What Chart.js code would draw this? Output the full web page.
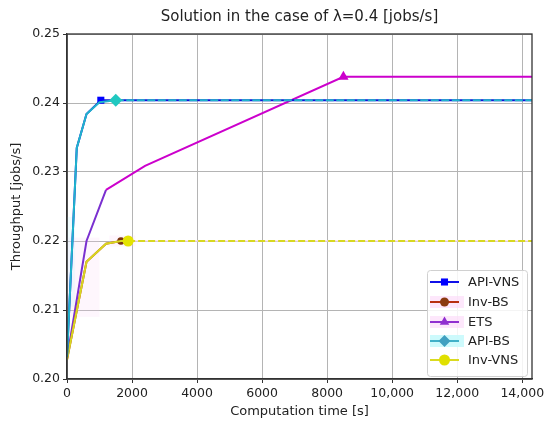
<!DOCTYPE html>
<html>
<head>
<meta charset="utf-8">
<script src="https://cdn.jsdelivr.net/npm/chart.js@4"></script>
<style>
  html, body { margin: 0; padding: 0; background: #fff; }
  #wrap { width: 550px; height: 426px; }
</style>
</head>
<body>
<div id="wrap"><canvas id="chart" width="550" height="426"></canvas></div>
<script>
// ---------- Data ----------
const apiVnsX = [0, 300, 600, 1040, 14300];
const apiVnsY = [0.2032, 0.2335, 0.2384, 0.2404, 0.2404];

const apiBsX = [0, 300, 600, 1000, 1500, 14300];
const apiBsY = [0.2032, 0.2335, 0.2384, 0.2401, 0.2404, 0.2404];

const etsX = [0, 600, 1200, 2400, 8500, 14300];
const etsY = [0.2030, 0.2200, 0.2274, 0.2309, 0.2438, 0.2438];

const invBsX = [0, 600, 1200, 1660, 14300];
const invBsY = [0.2028, 0.2170, 0.2196, 0.2200, 0.2200];

const invVnsX = [0, 600, 1200, 1660, 1880, 14300];
const invVnsY = [0.2028, 0.2170, 0.2196, 0.2200, 0.2200, 0.2200];

const xTicks = [0, 2000, 4000, 6000, 8000, 10000, 12000, 14000];
const yTicks = [0.20, 0.21, 0.22, 0.23, 0.24, 0.25];

const legendNames = ['API-VNS', 'Inv-BS', 'ETS', 'API-BS', 'Inv-VNS'];

// ---------- helpers ----------
function pts(xs, ys) {
    return xs.map((x, i) => ({ x: x, y: ys[i] }));
}

function series(label, xs, ys, opts) {
    const mark = opts.mark;
    return {
        label: label,
        data: pts(xs, ys),
        borderColor: opts.color,
        backgroundColor: opts.markColor,
        borderWidth: 2,
        pointStyle: opts.style,
        pointRadius: c => c.dataIndex === mark ? opts.r : 0,
        pointHoverRadius: c => c.dataIndex === mark ? opts.r : 0,
        pointBorderWidth: 0,
        pointBorderColor: opts.markColor,
        tension: 0,
        fill: false,
        order: opts.order,
        segment: {
            borderDash: c => (opts.dash && c.p0DataIndex >= mark) ? opts.dash : undefined,
            borderColor: c => (opts.segColor ? opts.segColor(c.p0DataIndex) : undefined)
        }
    };
}

// ---------- extra drawing: title, labels, spines, legend ----------
const decor = {
    id: 'decor',
    beforeDatasetsDraw(chart) {
        const ctx = chart.ctx;
        const xs = chart.scales.x, ys = chart.scales.y;
        // faint bands
        ctx.save();
        ctx.fillStyle = 'rgba(250, 205, 245, 0.18)';
        ctx.fillRect(xs.getPixelForValue(0), ys.getPixelForValue(0.2205), xs.getPixelForValue(1000) - xs.getPixelForValue(0), ys.getPixelForValue(0.209) - ys.getPixelForValue(0.2205));
        ctx.fillRect(xs.getPixelForValue(1300), ys.getPixelForValue(0.2208), xs.getPixelForValue(2100) - xs.getPixelForValue(1300), ys.getPixelForValue(0.2192) - ys.getPixelForValue(0.2208));
        ctx.fillStyle = 'rgba(200, 245, 250, 0.25)';
        ctx.fillRect(xs.getPixelForValue(0), ys.getPixelForValue(0.2235), xs.getPixelForValue(250) - xs.getPixelForValue(0), ys.getPixelForValue(0.2105) - ys.getPixelForValue(0.2235));
        ctx.restore();
    },
    afterDraw(chart) {
        const ctx = chart.ctx;
        const a = chart.chartArea;
        ctx.save();
        // spines
        ctx.strokeStyle = '#333';
        ctx.lineWidth = 1.3;
        ctx.strokeRect(a.left, a.top, a.right - a.left, a.bottom - a.top);

        ctx.fillStyle = '#222';
        ctx.textAlign = 'center';
        ctx.textBaseline = 'middle';
        ctx.font = '15px "DejaVu Sans"';
        ctx.fillText('Solution in the case of \u03bb=0.4 [jobs/s]', (a.left + a.right) / 2, 17);

        ctx.font = '13px "DejaVu Sans"';
        ctx.fillText('Computation time [s]', (a.left + a.right) / 2, 412);
        ctx.save();
        ctx.translate(17, (a.top + a.bottom) / 2);
        ctx.rotate(-Math.PI / 2);
        ctx.fillText('Throughput [jobs/s]', 0, 0);
        ctx.restore();

        // legend
        const bx = 427, by = 270, bw = 100, bh = 106;
        ctx.fillStyle = 'rgba(255,255,255,0.85)';
        ctx.strokeStyle = '#d0d0d0';
        ctx.lineWidth = 1;
        ctx.beginPath();
        ctx.roundRect(bx + 0.5, by + 0.5, bw, bh, 3);
        ctx.fill();
        ctx.stroke();

        const rows = [282, 302, 322, 341, 360];
        const lc = ['#1010e8', '#b83010', '#9030d0', '#40b0c8', '#dada20'];
        const mc = ['#0000ff', '#8b3a10', '#9030d0', '#40a0c0', '#e0e000'];
        const shade = [null, 'rgba(252,215,248,0.6)', 'rgba(252,215,248,0.6)', 'rgba(200,250,252,0.9)', null];
        const shapes = ['rect', 'circle', 'triangle', 'rectRot', 'circle'];
        const rad = [5, 4.5, 5.5, 6, 5.5];
        rows.forEach((y, i) => {
            if (shade[i]) {
                ctx.fillStyle = shade[i];
                ctx.fillRect(430, y - 6, 34, 12);
            }
            ctx.strokeStyle = lc[i];
            ctx.lineWidth = 2;
            ctx.beginPath();
            ctx.moveTo(430, y);
            ctx.lineTo(459, y);
            ctx.stroke();
            ctx.fillStyle = mc[i];
            Chart.helpers.drawPoint(ctx, { pointStyle: shapes[i], radius: rad[i], borderWidth: 0 }, 444.5, y);
            ctx.fillStyle = '#222';
            ctx.textAlign = 'left';
            ctx.font = '13px "DejaVu Sans"';
            ctx.fillText(legendNames[i], 468, y + 1);
        });
        ctx.restore();
    }
};

// ---------- chart ----------
const ctx = document.getElementById('chart');
const chart = new Chart(ctx, {
    type: 'line',
    data: {
        datasets: [
            series(legendNames[0], apiVnsX, apiVnsY, { color: '#1010d8', markColor: '#0000ff', style: 'rect', r: 5, mark: 3, order: 2 }),
            // Inv-BS tail runs under the Inv-VNS tail, keep it faint so gaps stay pale
            series(legendNames[1], invBsX, invBsY, { color: '#b83010', markColor: '#7a3510', style: 'circle', r: 3.8, mark: 3, order: 4,
                segColor: i => i >= 3 ? 'rgba(250, 215, 240, 0.6)' : undefined }),
            series(legendNames[2], etsX, etsY, { color: '#cc00cc', markColor: '#cc00cc', style: 'triangle', r: 6, mark: 4, order: 5,
                segColor: i => i < 2 ? '#7a30d0' : '#cc00cc' }),
            series(legendNames[3], apiBsX, apiBsY, { color: '#20b4cc', markColor: '#20c8c0', style: 'rectRot', r: 6.5, mark: 4, dash: [8, 2.5], order: 1 }),
            series(legendNames[4], invVnsX, invVnsY, { color: '#d8d820', markColor: '#e4e400', style: 'circle', r: 5.5, mark: 4, dash: [7, 3], order: 3 })
        ]
    },
    options: {
        responsive: false,
        animation: false,
        layout: { padding: { left: 0, right: 18, top: 34, bottom: 0 } },
        plugins: {
            legend: { display: false },
            title: { display: false },
            tooltip: { enabled: false }
        },
        scales: {
            x: {
                type: 'linear',
                min: 0,
                max: 14300,
                afterBuildTicks: s => { s.ticks = xTicks.map(v => ({ value: v })); },
                afterFit: s => { s.height = 47; },
                grid: { color: '#b4b4b4', lineWidth: 1, tickLength: 4, tickColor: '#333' },
                border: { color: '#333', width: 1.3 },
                ticks: {
                    color: '#222',
                    font: { family: 'DejaVu Sans', size: 12.5 },
                    padding: 3,
                    maxRotation: 0,
                    callback: v => v >= 10000 ? v.toLocaleString('en-US') : String(v)
                }
            },
            y: {
                type: 'linear',
                min: 0.2,
                max: 0.25,
                afterBuildTicks: s => { s.ticks = yTicks.map(v => ({ value: v })); },
                afterFit: s => { s.width = 67; },
                grid: { color: '#b4b4b4', lineWidth: 1, tickLength: 4, tickColor: '#333' },
                border: { color: '#333', width: 1.3 },
                ticks: {
                    color: '#222',
                    font: { family: 'DejaVu Sans', size: 12.5 },
                    padding: 3,
                    callback: v => v.toFixed(2)
                }
            }
        }
    },
    plugins: [decor]
});
</script>
</body>
</html>
